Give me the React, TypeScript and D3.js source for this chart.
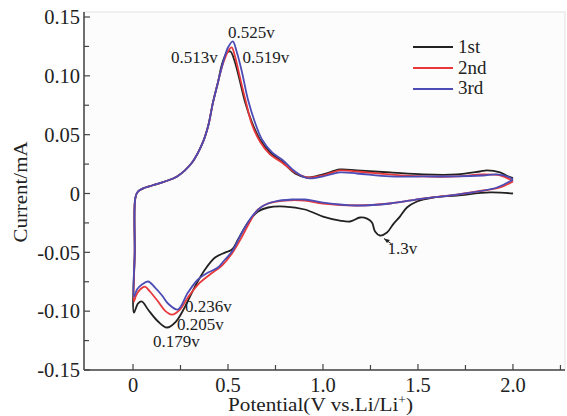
import React from 'react';
import * as d3 from 'd3';

// cycle data, [potential V, current mA]; each starts at 2.0 V on the cathodic sweep
const firstCycle: [number, number][] = [
  [2.0, 0.0], [1.879, 0.0009], [1.705, -0.0017], [1.579, -0.0034], [1.495, -0.0068],
  [1.442, -0.0119], [1.405, -0.0196], [1.368, -0.0264], [1.337, -0.0332], [1.3, -0.0357],
  [1.274, -0.0323], [1.258, -0.0247], [1.232, -0.0213], [1.195, -0.0204], [1.142, -0.0238],
  [1.089, -0.023], [1.0, -0.0196], [0.905, -0.0136], [0.8, -0.0111], [0.711, -0.0119],
  [0.658, -0.0153], [0.605, -0.0247], [0.553, -0.0391], [0.521, -0.0476], [0.484, -0.0502],
  [0.432, -0.0544], [0.379, -0.0646], [0.326, -0.0791], [0.274, -0.0961], [0.226, -0.1088],
  [0.179, -0.1139], [0.132, -0.1088], [0.079, -0.0986], [0.047, -0.0918], [0.026, -0.0935],
  [0.005, -0.1012],
  [0.009, -0.05], [0.012, -0.004], [0.026, 0.0017], [0.053, 0.0043], [0.1, 0.0068],
  [0.168, 0.0102], [0.232, 0.0145], [0.311, 0.0264], [0.363, 0.0417], [0.395, 0.057],
  [0.421, 0.0774], [0.447, 0.0944], [0.468, 0.1097], [0.495, 0.1199], [0.513, 0.1207],
  [0.532, 0.1139], [0.558, 0.0986], [0.589, 0.0782], [0.626, 0.0604], [0.668, 0.0459],
  [0.721, 0.0349], [0.784, 0.0272], [0.853, 0.017], [0.916, 0.0136], [1.0, 0.0162],
  [1.089, 0.0204], [1.179, 0.0196], [1.353, 0.0179], [1.526, 0.0162], [1.705, 0.0162],
  [1.826, 0.0187], [1.863, 0.0196], [1.932, 0.0179], [1.974, 0.0145], [2.0, 0.013],
];

const secondCycle: [number, number][] = [
  [2.0, 0.0102], [1.932, 0.0051], [1.811, 0.0017], [1.705, -0.0009], [1.526, -0.0043],
  [1.353, -0.0085], [1.179, -0.0102], [1.0, -0.0085], [0.905, -0.006], [0.8, -0.006],
  [0.711, -0.0085], [0.658, -0.0136], [0.616, -0.0238], [0.574, -0.0366], [0.521, -0.051],
  [0.468, -0.0612], [0.405, -0.0689], [0.342, -0.0774], [0.289, -0.0884], [0.247, -0.0986],
  [0.205, -0.1029], [0.168, -0.0995], [0.132, -0.0918], [0.089, -0.0833], [0.063, -0.0791],
  [0.037, -0.0816], [0.016, -0.0867], [0.005, -0.0918],
  [0.009, -0.05], [0.012, -0.004], [0.026, 0.0017], [0.053, 0.0043], [0.1, 0.0068],
  [0.168, 0.0102], [0.232, 0.0145], [0.311, 0.0264], [0.363, 0.0417], [0.395, 0.057],
  [0.421, 0.0774], [0.447, 0.0944], [0.474, 0.1105], [0.5, 0.1207], [0.519, 0.1241],
  [0.537, 0.1165], [0.563, 0.0986], [0.595, 0.0774], [0.626, 0.0587], [0.668, 0.0442],
  [0.721, 0.0332], [0.784, 0.0264], [0.853, 0.0179], [0.916, 0.0136], [1.0, 0.0153],
  [1.089, 0.0196], [1.179, 0.0187], [1.353, 0.0162], [1.526, 0.0145], [1.705, 0.0145],
  [1.842, 0.0162], [1.932, 0.0153], [1.984, 0.0119], [2.0, 0.0102],
];

const thirdCycle: [number, number][] = [
  [2.0, 0.0119], [1.916, 0.0051], [1.705, -0.0009], [1.526, -0.0043], [1.353, -0.0085],
  [1.179, -0.0102], [1.0, -0.0077], [0.905, -0.0051], [0.837, -0.0051], [0.747, -0.0068],
  [0.679, -0.0111], [0.626, -0.0196], [0.574, -0.0332], [0.521, -0.0493], [0.484, -0.0561],
  [0.447, -0.0629], [0.395, -0.0672], [0.342, -0.0731], [0.289, -0.0842], [0.236, -0.0986],
  [0.184, -0.0935], [0.153, -0.0867], [0.116, -0.0799], [0.079, -0.0748], [0.047, -0.0774],
  [0.021, -0.0816], [0.005, -0.0876],
  [0.009, -0.05], [0.012, -0.004], [0.026, 0.0017], [0.053, 0.0043], [0.1, 0.0068],
  [0.168, 0.0102], [0.232, 0.0145], [0.311, 0.0264], [0.363, 0.0417], [0.395, 0.057],
  [0.421, 0.0774], [0.447, 0.0944], [0.474, 0.1114], [0.5, 0.1241], [0.525, 0.1293],
  [0.547, 0.1199], [0.574, 0.1029], [0.605, 0.0799], [0.642, 0.0604], [0.679, 0.0459],
  [0.732, 0.0349], [0.784, 0.0289], [0.853, 0.0187], [0.905, 0.0136], [0.932, 0.0128],
  [1.0, 0.0145], [1.089, 0.0179], [1.179, 0.017], [1.353, 0.0145], [1.526, 0.0145],
  [1.705, 0.0145], [1.842, 0.0153], [1.916, 0.0162], [1.984, 0.0136], [2.0, 0.0119],
];

const seriesNames = ['1st', '2nd', '3rd'];
const seriesColors = ['#222222', '#e8383a', '#4c4cb6'];

const xTicks = [0, 0.5, 1.0, 1.5, 2.0];
const xTickLabels = ['0', '0.5', '1.0', '1.5', '2.0'];
const xMinorTicks = [0.25, 0.75, 1.25, 1.75, 2.25];
const yTicks = [-0.15, -0.1, -0.05, 0, 0.05, 0.1, 0.15];
const yTickLabels = ['-0.15', '-0.10', '-0.05', '0', '0.05', '0.10', '0.15'];
const yMinorTicks = [-0.125, -0.075, -0.025, 0.025, 0.075, 0.125];

// peak annotations, anchored next to each peak
const peakLabels: { x: number; y: number; text: string }[] = [
  { x: 0.5, y: 0.132, text: '0.525v' },
  { x: 0.2, y: 0.111, text: '0.513v' },
  { x: 0.576, y: 0.111, text: '0.519v' },
  { x: 0.274, y: -0.1003, text: '0.236v' },
  { x: 0.232, y: -0.1156, text: '0.205v' },
  { x: 0.105, y: -0.1305, text: '0.179v' },
  { x: 1.34, y: -0.0515, text: '1.3v' },
];

const W = 567;
const H = 416;
const font = '"Liberation Serif", "Times New Roman", serif';

export default function App() {
  const x = d3.scaleLinear().domain([-0.258, 2.274]).range([84, 565]);
  const y = d3.scaleLinear().domain([-0.15, 0.15]).range([370, 17]);
  const top = y(0.1543);
  const left = x.range()[0];
  const right = x.range()[1];
  const bottom = y(-0.15);

  const line = d3
    .line<[number, number]>()
    .x(d => x(d[0]))
    .y(d => y(d[1]))
    .curve(d3.curveCatmullRom.alpha(0.5));

  const cycles = [firstCycle, secondCycle, thirdCycle];

  // arrow toward the 1.3 V dip of the first cycle
  const ax1 = x(1.3) + 4;
  const ay1 = y(-0.0357) + 3;

  return (
    <svg width={W} height={H} style={{ position: 'absolute', left: 0, top: 0, background: '#fff' }}>
      <rect x={left} y={top} width={right - left} height={bottom - top} fill="#fcfcfc" stroke="#e2e2e2" strokeWidth={1} />

      {cycles.map((c, i) => (
        <path key={i} d={line(c) || ''} fill="none" stroke={seriesColors[i]} strokeWidth={1.8} strokeLinejoin="round" />
      ))}

      {/* axes */}
      <line x1={left} x2={left} y1={top} y2={bottom} stroke="#444" strokeWidth={1.5} />
      <line x1={left} x2={right} y1={bottom} y2={bottom} stroke="#444" strokeWidth={1.5} />
      {yTicks.map((t, i) => (
        <g key={'yt' + i}>
          <line x1={left} x2={left + 6} y1={y(t)} y2={y(t)} stroke="#444" strokeWidth={1.2} />
          <text x={left - 4} y={y(t)} dy="0.35em" textAnchor="end" fontFamily={font} fontSize={20.5} fill="#222">
            {yTickLabels[i]}
          </text>
        </g>
      ))}
      {yMinorTicks.map((t, i) => (
        <line key={'ym' + i} x1={left} x2={left + 5} y1={y(t)} y2={y(t)} stroke="#444" strokeWidth={1.2} />
      ))}
      {xTicks.map((t, i) => (
        <g key={'xt' + i}>
          <line x1={x(t)} x2={x(t)} y1={bottom} y2={bottom - 6} stroke="#444" strokeWidth={1.2} />
          <text x={x(t)} y={392} textAnchor="middle" fontFamily={font} fontSize={20.5} fill="#222">
            {xTickLabels[i]}
          </text>
        </g>
      ))}
      {xMinorTicks.map((t, i) => (
        <line key={'xm' + i} x1={x(t)} x2={x(t)} y1={bottom} y2={bottom - 5} stroke="#444" strokeWidth={1.2} />
      ))}

      <text x={228} y={411} fontFamily={font} fontSize={19} fill="#222" textLength={185} lengthAdjust="spacingAndGlyphs">
        Potential(V vs.Li/Li<tspan dy={-7} fontSize={12}>+</tspan><tspan dy={7}>)</tspan>
      </text>
      <text transform="translate(27,192) rotate(-90)" textAnchor="middle" fontFamily={font} fontSize={19.5} fill="#222" textLength={101} lengthAdjust="spacingAndGlyphs">
        Current/mA
      </text>

      {/* legend */}
      {seriesNames.map((n, i) => (
        <g key={'lg' + i}>
          <line x1={413} x2={453} y1={47 + i * 21} y2={47 + i * 21} stroke={seriesColors[i]} strokeWidth={2} />
          <text x={458} y={53 + i * 20.5} fontFamily={font} fontSize={19} fill="#222">
            {n}
          </text>
        </g>
      ))}

      {peakLabels.map((p, i) => (
        <text key={'pk' + i} x={x(p.x)} y={y(p.y)} fontFamily={font} fontSize={17} fill="#222">
          {p.text}
        </text>
      ))}

      <line x1={ax1 + 7} x2={ax1} y1={ay1 + 5} y2={ay1} stroke="#222" strokeWidth={1} />
      <path d={`M${ax1},${ay1} l6,1.5 l-3,3 z`} fill="#222" />
    </svg>
  );
}
